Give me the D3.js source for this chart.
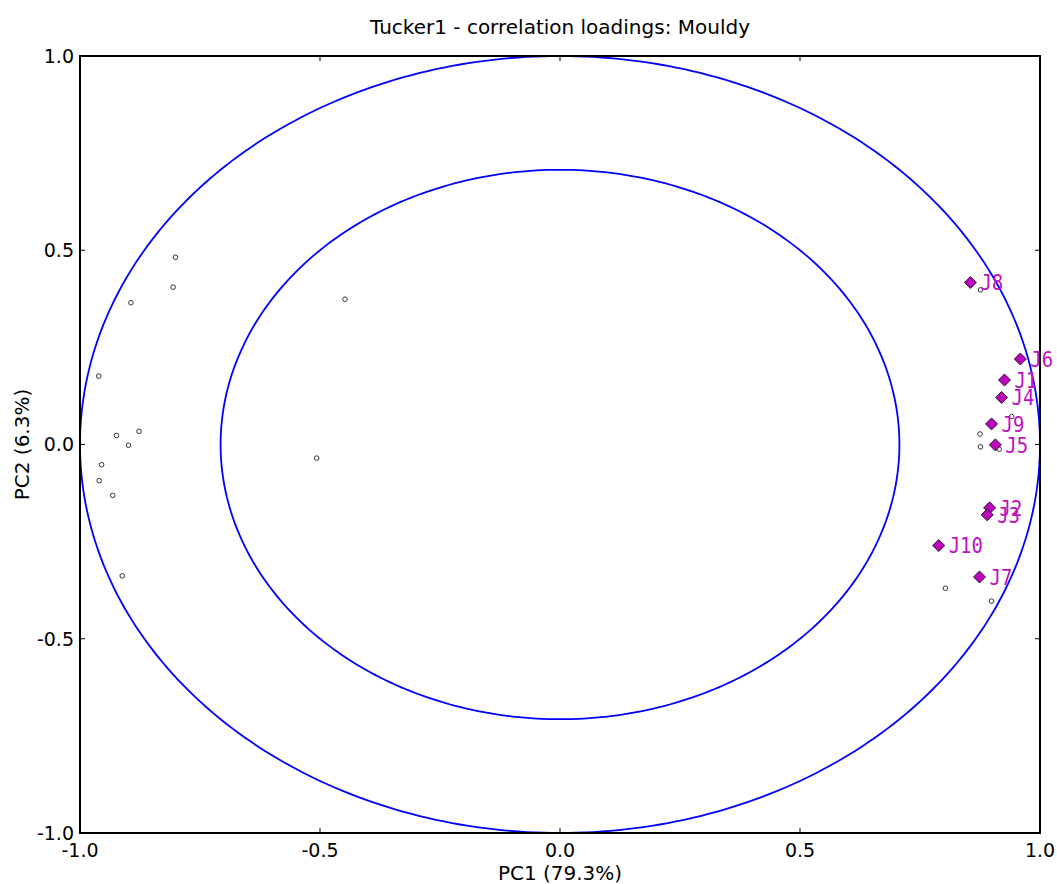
<!DOCTYPE html>
<html>
<head>
<meta charset="utf-8">
<script src="https://cdn.jsdelivr.net/npm/d3@7"></script>
<style>
html,body{margin:0;padding:0;background:#fff;}
svg{display:block;font-family:"DejaVu Sans",sans-serif;}
</style>
</head>
<body>
<svg id="chart" width="1057" height="884"></svg>
<script>
// Object (attribute) loadings - small open circles
const objX = [-0.801,-0.806,-0.894,-0.961,-0.877,-0.924,-0.899,-0.955,-0.960,-0.932,-0.912,-0.448,-0.507,0.876,0.941,0.875,0.876,0.915,0.803,0.899];
const objY = [0.482,0.405,0.365,0.176,0.034,0.023,-0.002,-0.052,-0.093,-0.131,-0.338,0.374,-0.035,0.398,0.072,0.027,-0.006,-0.012,-0.370,-0.403];
// Judge loadings - diamonds with labels
const judgeLabels = ["J8","J6","J1","J4","J9","J5","J2","J3","J10","J7"];
const judgeX = [0.855,0.959,0.926,0.920,0.899,0.907,0.895,0.890,0.789,0.874];
const judgeY = [0.417,0.220,0.166,0.121,0.053,-0.001,-0.163,-0.181,-0.260,-0.341];
// Correlation circles radii
const radii = [1.0, Math.sqrt(0.5)];
// Ticks
const xTicks = [-1.0,-0.5,0.0,0.5,1.0];
const yTicks = [-1.0,-0.5,0.0,0.5,1.0];
const tickLabels = ["-1.0","-0.5","0.0","0.5","1.0"];

const svg = d3.select("#chart");
const L = 80, R = 1040, T = 56, B = 833;
const x = d3.scaleLinear().domain([-1,1]).range([L,R]);
const y = d3.scaleLinear().domain([-1,1]).range([B,T]);

// circles (ellipses in pixel space)
const line = d3.line().x(d=>x(d[0])).y(d=>y(d[1]));
radii.forEach(r=>{
  const pts = d3.range(0,361).map(a=>[r*Math.cos(a*Math.PI/180), r*Math.sin(a*Math.PI/180)]);
  svg.append("path").attr("d", line(pts)).attr("fill","none").attr("stroke","#0000ff").attr("stroke-width",1.8);
});

// small circles
svg.append("g").selectAll("circle").data(objX.map((v,i)=>[v,objY[i]])).join("circle")
  .attr("cx",d=>x(d[0])).attr("cy",d=>y(d[1])).attr("r",2.3)
  .attr("fill","#fff").attr("stroke","#333").attr("stroke-width",1);

// diamonds
const judges = judgeLabels.map((l,i)=>({l, x:judgeX[i], y:judgeY[i]}));
const dsz = 6;
svg.append("g").selectAll("path").data(judges).join("path")
  .attr("d", d=>{const cx=x(d.x), cy=y(d.y); return `M${cx},${cy-dsz}L${cx+dsz},${cy}L${cx},${cy+dsz}L${cx-dsz},${cy}Z`;})
  .attr("fill","#bf00bf").attr("stroke","#222").attr("stroke-width",1);
svg.append("g").selectAll("text").data(judges).join("text")
  .attr("transform",d=>`translate(${x(d.x)+10},${y(d.y)}) scale(0.86,1)`).attr("dy","0.36em")
  .attr("fill","#c010c0").attr("font-size",22).attr("font-family","'DejaVu Sans Mono',monospace").text(d=>d.l);

// frame
svg.append("rect").attr("x",L).attr("y",T).attr("width",R-L).attr("height",B-T)
  .attr("fill","none").attr("stroke","#000").attr("stroke-width",2);

// ticks (inward, all sides)
const tl = 5;
const tg = svg.append("g").attr("stroke","#000").attr("stroke-width",1);
xTicks.forEach(t=>{
  tg.append("line").attr("x1",x(t)).attr("x2",x(t)).attr("y1",B).attr("y2",B-tl);
  tg.append("line").attr("x1",x(t)).attr("x2",x(t)).attr("y1",T).attr("y2",T+tl);
});
yTicks.forEach(t=>{
  tg.append("line").attr("y1",y(t)).attr("y2",y(t)).attr("x1",L).attr("x2",L+tl);
  tg.append("line").attr("y1",y(t)).attr("y2",y(t)).attr("x1",R).attr("x2",R-tl);
});

// tick labels
svg.append("g").selectAll("text").data(xTicks).join("text")
  .attr("x",d=>x(d)).attr("y",B+24).attr("text-anchor","middle")
  .attr("font-size",19).attr("fill","#000").text((d,i)=>tickLabels[i]);
svg.append("g").selectAll("text").data(yTicks).join("text")
  .attr("x",L-6).attr("y",d=>y(d)).attr("dy","0.36em").attr("text-anchor","end")
  .attr("font-size",19).attr("fill","#000").text((d,i)=>tickLabels[i]);

// title and axis labels
svg.append("text").attr("x",(L+R)/2).attr("y",34).attr("text-anchor","middle")
  .attr("font-size",20).attr("fill","#000").text("Tucker1 - correlation loadings: Mouldy");
svg.append("text").attr("x",(L+R)/2).attr("y",880).attr("text-anchor","middle")
  .attr("font-size",20).attr("fill","#000").text("PC1 (79.3%)");
svg.append("text").attr("transform",`translate(29,${(T+B)/2}) rotate(-90)`).attr("text-anchor","middle")
  .attr("font-size",20).attr("fill","#000").text("PC2 (6.3%)");
</script>
</body>
</html>
